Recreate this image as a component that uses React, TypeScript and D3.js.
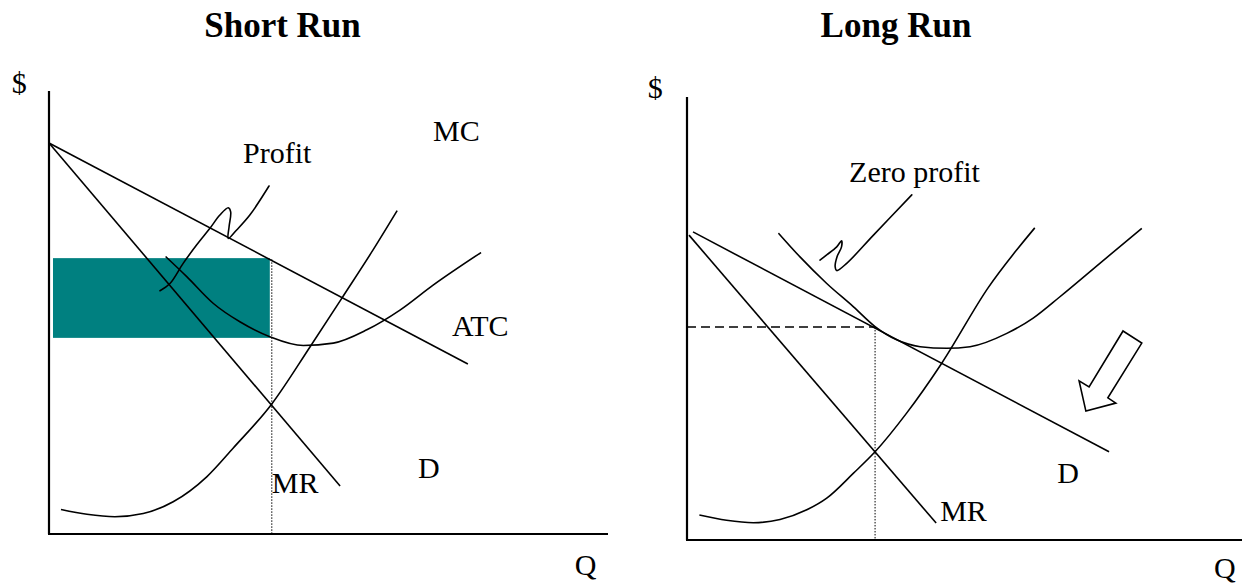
import React from "react";
import * as d3 from "d3";

type P = [number, number];

// ---------- Short run data (Q units, $ units) ----------
const srDemand: P[] = [[0, 9.71], [10.49, 4.22]];
const srMR: P[] = [[0, 9.71], [7.29, 1.19]];
const srMC: P[] = [
  [0.3, 0.61], [0.95, 0.49], [1.65, 0.43], [2.36, 0.51], [3.11, 0.8], [3.95, 1.42],
  [4.61, 2.13], [5.58, 3.23], [6.54, 4.65], [7.37, 5.91], [8.12, 7.06], [8.72, 8.03],
];
const srATC: P[] = [
  [2.92, 6.89], [3.45, 6.39], [4.11, 5.73], [4.78, 5.27], [5.53, 4.9], [6.37, 4.68],
  [7.12, 4.74], [7.96, 5.07], [8.79, 5.56], [9.62, 6.18], [10.82, 6.99],
];
const srProfitRect = { q0: 0.1, q1: 5.53, pTop: 6.85, pBottom: 4.87 };
const srOutput = { q: 5.58, p: 6.82 };
const srSquiggle: P[] = [
  [2.78, 6.04], [3.03, 6.22], [3.36, 6.72], [3.7, 7.18], [4.03, 7.59], [4.28, 7.92],
  [4.49, 8.1], [4.55, 8.0], [4.51, 7.63], [4.49, 7.34], [4.7, 7.55], [5.03, 7.92], [5.51, 8.64],
];
const srLabels: { t: string; q: number; p: number }[] = [
  { t: "$", q: -0.93, p: 10.95 },
  { t: "MC", q: 9.62, p: 9.76 },
  { t: "Profit", q: 4.86, p: 9.21 },
  { t: "ATC", q: 10.09, p: 4.92 },
  { t: "D", q: 9.24, p: 1.39 },
  { t: "MR", q: 5.58, p: 1.02 },
  { t: "Q", q: 13.17, p: -1.02 },
];

// ---------- Long run data ----------
const lrDemand: P[] = [[0.15, 7.65], [10.57, 2.19]];
const lrMR: P[] = [[0.05, 7.57], [6.24, 0.42]];
const lrMC: P[] = [
  [0.31, 0.62], [0.99, 0.49], [1.66, 0.43], [2.33, 0.51], [3.0, 0.75], [3.5, 1.04],
  [4.17, 1.66], [4.71, 2.19], [5.5, 3.15], [6.38, 4.39], [7.54, 6.26], [8.71, 7.75],
];
const lrATC: P[] = [
  [2.29, 7.62], [2.83, 7.03], [3.5, 6.37], [4.17, 5.79], [4.71, 5.3], [5.25, 4.97],
  [5.84, 4.8], [6.5, 4.76], [7.09, 4.8], [8.01, 5.13], [8.67, 5.51], [9.34, 6.04],
  [10.34, 6.87], [11.39, 7.74],
];
const lrTangency = { q: 4.71, p: 5.29 };
const lrSquiggle: P[] = [
  [3.33, 6.95], [3.5, 7.08], [3.75, 7.28], [3.87, 7.43], [3.87, 7.28], [3.76, 7.04],
  [3.71, 6.79], [3.75, 6.69], [4.0, 6.87], [4.67, 7.57], [5.63, 8.57],
];
const lrArrow: P[] = [
  [10.92, 5.19], [11.39, 4.89], [10.54, 3.53], [10.74, 3.4], [9.99, 3.2], [9.82, 3.95], [10.07, 3.8],
];
const lrLabels: { t: string; q: number; p: number }[] = [
  { t: "$", q: -0.98, p: 10.98 },
  { t: "Zero profit", q: 4.06, p: 8.89 },
  { t: "MR", q: 6.34, p: 0.47 },
  { t: "D", q: 9.27, p: 1.42 },
  { t: "Q", q: 13.2, p: -0.94 },
];

const W = 1242;
const H = 584;
const FONT = "'Liberation Serif', 'Times New Roman', Times, serif";

const leftX = d3.scaleLinear().domain([0, 14]).range([49, 608]);
const leftY = d3.scaleLinear().domain([0, 11]).range([534, 91]);
const rightX = d3.scaleLinear().domain([0, 14]).range([687, 1246]);
const rightY = d3.scaleLinear().domain([0, 11]).range([540, 97]);

type S = d3.ScaleLinear<number, number>;

function Panel({ x, y, xMax, children }: { x: S; y: S; xMax: number; children?: React.ReactNode }) {
  return (
    <g>
      <line x1={x(0)} y1={y(11)} x2={x(0)} y2={y(0)} stroke="#000" strokeWidth={2.2} />
      <line x1={x(0) - 1} y1={y(0)} x2={x(xMax)} y2={y(0)} stroke="#000" strokeWidth={2.2} />
      {children}
    </g>
  );
}

export default function App() {
  const smooth = (x: S, y: S) =>
    d3.line<P>().x((d) => x(d[0])).y((d) => y(d[1])).curve(d3.curveMonotoneX);
  const hand = (x: S, y: S) =>
    d3.line<P>().x((d) => x(d[0])).y((d) => y(d[1])).curve(d3.curveCatmullRom.alpha(0.5));
  const straight = (x: S, y: S) => d3.line<P>().x((d) => x(d[0])).y((d) => y(d[1]));

  const lc = smooth(leftX, leftY);
  const lh = hand(leftX, leftY);
  const ls = straight(leftX, leftY);
  const rc = smooth(rightX, rightY);
  const rh = hand(rightX, rightY);
  const rs = straight(rightX, rightY);
  const sw = 1.6;

  return (
    <div style={{ position: "absolute", left: 0, top: 0, width: W, height: H, background: "#fff" }}>
      <svg width={W} height={H} viewBox={`0 0 ${W} ${H}`} style={{ display: "block" }}>
        <rect x={0} y={0} width={W} height={H} fill="#fff" />
        <text x={282.5} y={37} textAnchor="middle" fontFamily={FONT} fontWeight="bold" fontSize={35}>
          Short Run
        </text>
        <text x={896} y={37} textAnchor="middle" fontFamily={FONT} fontWeight="bold" fontSize={35}>
          Long Run
        </text>

        {/* Short run */}
        <Panel x={leftX} y={leftY} xMax={14}>
          <rect
            x={leftX(srProfitRect.q0)}
            y={leftY(srProfitRect.pTop)}
            width={leftX(srProfitRect.q1) - leftX(srProfitRect.q0)}
            height={leftY(srProfitRect.pBottom) - leftY(srProfitRect.pTop)}
            fill="#008080"
          />
          <line
            x1={leftX(srOutput.q)} y1={leftY(srOutput.p)} x2={leftX(srOutput.q)} y2={leftY(0)}
            stroke="#000" strokeWidth={1} strokeDasharray="1.5,1.5"
          />
          <path d={ls(srDemand) || ""} fill="none" stroke="#000" strokeWidth={sw} />
          <path d={ls(srMR) || ""} fill="none" stroke="#000" strokeWidth={sw} />
          <path d={lc(srMC) || ""} fill="none" stroke="#000" strokeWidth={sw} />
          <path d={lc(srATC) || ""} fill="none" stroke="#000" strokeWidth={sw} />
          <path d={lh(srSquiggle) || ""} fill="none" stroke="#000" strokeWidth={sw} strokeLinecap="round" />
          {srLabels.map((l) => (
            <text key={l.t} x={leftX(l.q)} y={leftY(l.p)} fontFamily={FONT} fontSize={30}>
              {l.t}
            </text>
          ))}
        </Panel>

        {/* Long run */}
        <Panel x={rightX} y={rightY} xMax={14}>
          <line
            x1={rightX(0)} y1={rightY(lrTangency.p)} x2={rightX(lrTangency.q)} y2={rightY(lrTangency.p)}
            stroke="#000" strokeWidth={1.6} strokeDasharray="9,5"
          />
          <line
            x1={rightX(lrTangency.q)} y1={rightY(lrTangency.p)} x2={rightX(lrTangency.q)} y2={rightY(0)}
            stroke="#000" strokeWidth={1} strokeDasharray="1.5,1.5"
          />
          <path d={rs(lrDemand) || ""} fill="none" stroke="#000" strokeWidth={sw} />
          <path d={rs(lrMR) || ""} fill="none" stroke="#000" strokeWidth={sw} />
          <path d={rc(lrMC) || ""} fill="none" stroke="#000" strokeWidth={sw} />
          <path d={rc(lrATC) || ""} fill="none" stroke="#000" strokeWidth={sw} />
          <path d={rh(lrSquiggle) || ""} fill="none" stroke="#000" strokeWidth={sw} strokeLinecap="round" />
          <path d={(rs(lrArrow) || "") + "Z"} fill="#fff" stroke="#000" strokeWidth={sw} strokeLinejoin="miter" />
          {lrLabels.map((l) => (
            <text key={l.t} x={rightX(l.q)} y={rightY(l.p)} fontFamily={FONT} fontSize={30}>
              {l.t}
            </text>
          ))}
        </Panel>
      </svg>
    </div>
  );
}
